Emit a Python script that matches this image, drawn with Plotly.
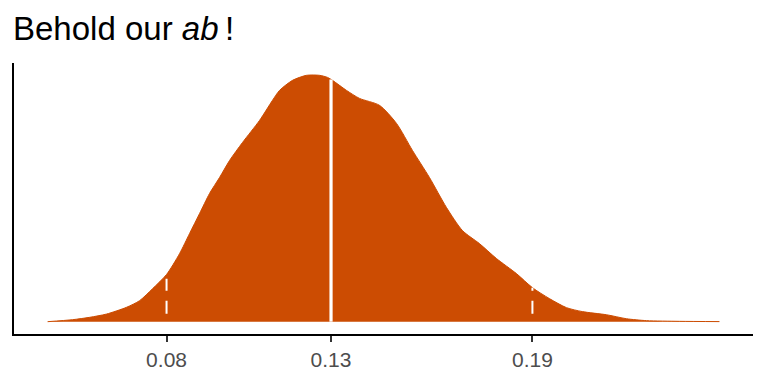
import numpy as np
import plotly.graph_objects as go

# Posterior density of ab
ab_x = [0.04391, 0.05149, 0.05665, 0.06180, 0.06787, 0.07181, 0.07575, 0.08000,
        0.08394, 0.08698, 0.09001, 0.09304, 0.09608, 0.09911, 0.10305, 0.10821,
        0.11215, 0.11427, 0.11822, 0.12246, 0.12641, 0.12883, 0.13035, 0.13460,
        0.13854, 0.14460, 0.14976, 0.15461, 0.15977, 0.16493, 0.16978, 0.17494,
        0.18009, 0.18616, 0.19101, 0.19617, 0.20132, 0.20618, 0.21346, 0.21952,
        0.22559, 0.23560, 0.24773]
ab_density = [0.0, 0.115, 0.25, 0.44, 0.83, 1.21, 1.90, 2.72,
              3.92, 5.08, 6.23, 7.39, 8.31, 9.29, 10.33, 11.60,
              12.76, 13.33, 13.91, 14.20, 14.20, 14.08, 13.91, 13.33,
              12.87, 12.47, 11.43, 9.87, 8.31, 6.58, 5.25, 4.50,
              3.64, 2.77, 1.96, 1.33, 0.81, 0.58, 0.40, 0.17,
              0.06, 0.02, 0.005]

# Summary values: 2.5% quantile, median, 97.5% quantile
q_lower, q_median, q_upper = 0.0800, 0.1299, 0.1910
tick_vals = [q_lower, q_median, q_upper]
tick_text = ["0.08", "0.13", "0.19"]

fill_color = "#CC4C02"

def dens_at(v):
    return float(np.interp(v, ab_x, ab_density))

fig = go.Figure()
fig.add_trace(go.Scatter(
    x=ab_x, y=ab_density, mode="lines",
    line=dict(color=fill_color, width=1, shape="spline", smoothing=0.7),
    fill="tozeroy", fillcolor=fill_color, hoverinfo="skip", showlegend=False))

fig.add_trace(go.Scatter(
    x=[q_median, q_median], y=[0, dens_at(q_median)], mode="lines",
    line=dict(color="white", width=3.2), showlegend=False, hoverinfo="skip"))
for q in (q_lower, q_upper):
    fig.add_trace(go.Scatter(
        x=[q, q], y=[0, dens_at(q)], mode="lines",
        line=dict(color="white", width=2, dash="0px,8px,13px,10px,12px,40px"),
        showlegend=False, hoverinfo="skip"))

x_lo, x_hi = min(ab_x), max(ab_x)
xpad = 0.05 * (x_hi - x_lo)
ymax = max(ab_density)

fig.update_layout(
    width=768, height=384,
    margin=dict(l=14, r=15, t=63, b=50),
    paper_bgcolor="white", plot_bgcolor="white",
    font=dict(family="Liberation Sans, Arial, sans-serif"),
    title=dict(text="Behold our <i>ab</i>\u2009!", x=13/768, xanchor="left", xref="container",
               y=1 - 28/384, yanchor="middle", yref="container",
               font=dict(size=33, color="black", family="Liberation Sans, Arial, sans-serif")),
    xaxis=dict(range=[x_lo - xpad, x_hi + xpad], tickvals=tick_vals, ticktext=tick_text,
               showgrid=False, zeroline=False, showline=True, linecolor="black", linewidth=2,
               ticks="outside", ticklen=6, tickwidth=2, tickcolor="#333333",
               tickfont=dict(size=21, color="#4D4D4D")),
    yaxis=dict(range=[-0.05 * ymax, ymax * 1.05], showticklabels=False, ticks="",
               showgrid=False, zeroline=False, showline=True, linecolor="black", linewidth=2),
)

fig.write_html("out.html")
